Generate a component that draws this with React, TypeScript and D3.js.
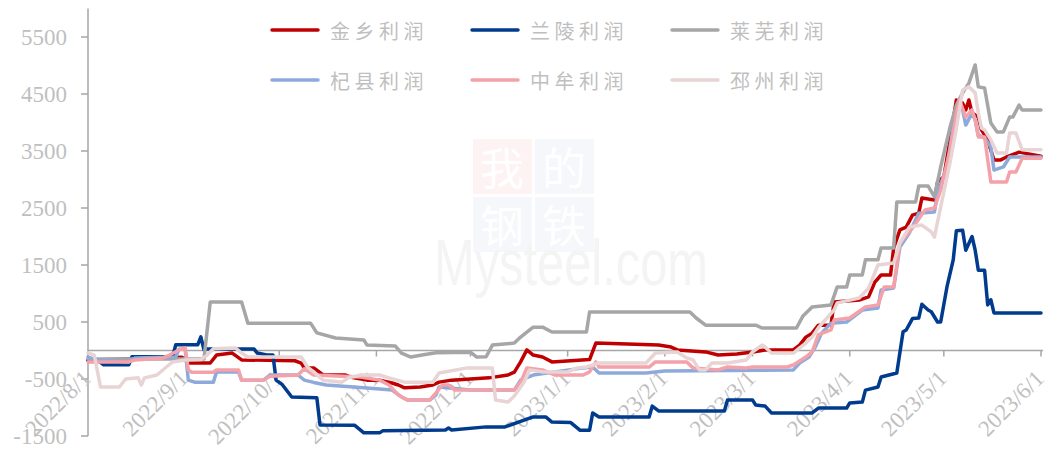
import React from 'react'
import * as d3 from 'd3'

// 利润走势，单位：元/吨（点位按日期读取）
type Pt = [string, number]

const seriesNames = ['金乡利润', '兰陵利润', '莱芜利润', '杞县利润', '中牟利润', '邳州利润']
const seriesColors = ['#c00000', '#003b8e', '#a6a6a6', '#8eaadb', '#f4a1a9', '#e8d4d4']

const jinxiang: Pt[] = [
  ['2022-08-01', -170], ['2022-08-31', -120], ['2022-09-02', -220], ['2022-09-09', -220], ['2022-09-11', -80],
  ['2022-09-16', -45], ['2022-09-19', -165], ['2022-10-06', -180], ['2022-10-08', -220], ['2022-10-09', -305],
  ['2022-10-12', -305], ['2022-10-15', -430], ['2022-10-22', -430], ['2022-10-24', -470], ['2022-10-29', -520],
  ['2022-11-02', -520], ['2022-11-06', -570], ['2022-11-08', -605], ['2022-11-10', -655], ['2022-11-15', -640],
  ['2022-11-19', -605], ['2022-11-21', -555], ['2022-11-25', -520], ['2022-12-07', -480], ['2022-12-13', -430],
  ['2022-12-15', -380], ['2022-12-17', -200], ['2022-12-19', 10], ['2022-12-21', -80], ['2022-12-24', -115],
  ['2022-12-27', -200], ['2023-01-08', -160], ['2023-01-10', 130], ['2023-01-30', 95], ['2023-02-03', 60],
  ['2023-02-05', 10], ['2023-02-14', -25], ['2023-02-18', -80], ['2023-02-24', -60], ['2023-03-01', -25],
  ['2023-03-05', 10], ['2023-03-14', 10], ['2023-03-16', 95], ['2023-03-18', 235], ['2023-03-20', 305],
  ['2023-03-22', 445], ['2023-03-26', 445], ['2023-03-27', 850], ['2023-04-04', 885], ['2023-04-07', 940],
  ['2023-04-09', 1200], ['2023-04-11', 1325], ['2023-04-14', 1325], ['2023-04-15', 1800], ['2023-04-17', 2115],
  ['2023-04-19', 2165], ['2023-04-21', 2375], ['2023-04-23', 2410], ['2023-04-24', 2675], ['2023-04-28', 2640],
  ['2023-04-29', 2955], ['2023-05-01', 3045], ['2023-05-03', 3700], ['2023-05-05', 4395], ['2023-05-07', 4340],
  ['2023-05-08', 4220], ['2023-05-09', 4395], ['2023-05-10', 4165], ['2023-05-12', 4095], ['2023-05-13', 3870],
  ['2023-05-15', 3695], ['2023-05-17', 3340], ['2023-05-19', 3340], ['2023-05-21', 3395], ['2023-05-25', 3480],
  ['2023-06-01', 3410],
]

const lanling: Pt[] = [
  ['2022-08-01', -170], ['2022-08-04', -170], ['2022-08-06', -250], ['2022-08-14', -250], ['2022-08-15', -110],
  ['2022-08-28', -110], ['2022-08-29', 100], ['2022-09-05', 100], ['2022-09-06', 240], ['2022-09-07', 10],
  ['2022-09-08', 25], ['2022-09-23', 25], ['2022-09-24', -45], ['2022-09-27', -80], ['2022-09-29', -80],
  ['2022-09-30', -520], ['2022-10-02', -600], ['2022-10-05', -815], ['2022-10-13', -830], ['2022-10-14', -1305],
  ['2022-10-25', -1310], ['2022-10-28', -1445], ['2022-11-02', -1445], ['2022-11-03', -1410], ['2022-11-23', -1395],
  ['2022-11-24', -1360], ['2022-11-25', -1395], ['2022-12-06', -1340], ['2022-12-12', -1340], ['2022-12-21', -1165],
  ['2022-12-25', -1165], ['2022-12-27', -1255], ['2023-01-02', -1265], ['2023-01-05', -1400], ['2023-01-08', -1400],
  ['2023-01-09', -1095], ['2023-01-11', -1165], ['2023-01-27', -1165], ['2023-01-28', -975], ['2023-01-30', -1060],
  ['2023-02-20', -1060], ['2023-02-21', -870], ['2023-03-01', -870], ['2023-03-02', -955], ['2023-03-05', -975],
  ['2023-03-07', -1095], ['2023-03-20', -1095], ['2023-03-22', -1010], ['2023-03-31', -1010], ['2023-04-01', -920],
  ['2023-04-05', -905], ['2023-04-06', -695], ['2023-04-10', -640], ['2023-04-11', -465], ['2023-04-16', -395],
  ['2023-04-18', 330], ['2023-04-19', 360], ['2023-04-21', 560], ['2023-04-23', 570], ['2023-04-24', 810],
  ['2023-04-26', 710], ['2023-04-27', 680], ['2023-04-29', 500], ['2023-04-30', 500], ['2023-05-02', 1115],
  ['2023-05-04', 1590], ['2023-05-05', 2100], ['2023-05-07', 2110], ['2023-05-08', 1760], ['2023-05-10', 2000],
  ['2023-05-11', 1760], ['2023-05-12', 1410], ['2023-05-14', 1410], ['2023-05-15', 800], ['2023-05-16', 890],
  ['2023-05-17', 660], ['2023-06-01', 660],
]

const laiwu: Pt[] = [
  ['2022-08-01', -150], ['2022-09-07', -150], ['2022-09-09', 850], ['2022-09-19', 850], ['2022-09-21', 480],
  ['2022-10-11', 480], ['2022-10-13', 310], ['2022-10-19', 220], ['2022-10-28', 185], ['2022-10-29', 95],
  ['2022-11-07', 80], ['2022-11-09', -45], ['2022-11-12', -115], ['2022-11-16', -75], ['2022-11-20', -40],
  ['2022-12-01', -30], ['2022-12-03', -115], ['2022-12-06', -110], ['2022-12-08', 95], ['2022-12-15', 130],
  ['2022-12-17', 235], ['2022-12-21', 410], ['2022-12-24', 410], ['2022-12-27', 325], ['2023-01-07', 325],
  ['2023-01-08', 675], ['2023-02-09', 675], ['2023-02-11', 570], ['2023-02-14', 445], ['2023-03-02', 445],
  ['2023-03-04', 395], ['2023-03-15', 395], ['2023-03-17', 600], ['2023-03-20', 765], ['2023-03-26', 800],
  ['2023-03-28', 1115], ['2023-03-31', 1115], ['2023-04-01', 1325], ['2023-04-05', 1325], ['2023-04-06', 1590],
  ['2023-04-10', 1590], ['2023-04-11', 1800], ['2023-04-15', 1800], ['2023-04-16', 2605], ['2023-04-22', 2605],
  ['2023-04-23', 2885], ['2023-04-26', 2885], ['2023-04-28', 2695], ['2023-04-30', 3220], ['2023-05-03', 3920],
  ['2023-05-05', 4305], ['2023-05-07', 4520], ['2023-05-09', 4690], ['2023-05-11', 5010], ['2023-05-12', 4625],
  ['2023-05-14', 4605], ['2023-05-16', 3990], ['2023-05-18', 3835], ['2023-05-20', 3835], ['2023-05-22', 4095],
  ['2023-05-23', 4095], ['2023-05-25', 4305], ['2023-05-26', 4220], ['2023-06-01', 4220],
]

const qixian: Pt[] = [
  ['2022-08-01', -115], ['2022-08-04', -165], ['2022-08-14', -200], ['2022-08-16', -130], ['2022-08-29', -115],
  ['2022-08-30', 20], ['2022-09-01', 20], ['2022-09-02', -520], ['2022-09-04', -555], ['2022-09-10', -555],
  ['2022-09-11', -375], ['2022-09-18', -375], ['2022-09-19', -520], ['2022-09-26', -520], ['2022-09-28', -430],
  ['2022-10-07', -430], ['2022-10-09', -520], ['2022-10-12', -560], ['2022-10-16', -605], ['2022-10-28', -655],
  ['2022-11-06', -695], ['2022-11-09', -815], ['2022-11-11', -870], ['2022-11-18', -870], ['2022-11-20', -780],
  ['2022-11-21', -640], ['2022-12-01', -695], ['2022-12-15', -695], ['2022-12-17', -520], ['2022-12-21', -430],
  ['2023-01-06', -305], ['2023-01-09', -290], ['2023-01-11', -395], ['2023-01-26', -395], ['2023-02-01', -360],
  ['2023-03-14', -340], ['2023-03-16', -220], ['2023-03-19', -115], ['2023-03-21', 60], ['2023-03-23', 305],
  ['2023-03-26', 480], ['2023-03-31', 500], ['2023-04-05', 710], ['2023-04-10', 745], ['2023-04-11', 1060],
  ['2023-04-15', 1095], ['2023-04-17', 1815], ['2023-04-20', 2060], ['2023-04-23', 2410], ['2023-04-28', 2430],
  ['2023-04-29', 2765], ['2023-05-02', 3220], ['2023-05-03', 3570], ['2023-05-04', 3920], ['2023-05-06', 4270],
  ['2023-05-07', 4220], ['2023-05-08', 3955], ['2023-05-10', 4165], ['2023-05-11', 4045], ['2023-05-12', 3780],
  ['2023-05-14', 3730], ['2023-05-16', 3570], ['2023-05-17', 3165], ['2023-05-20', 3220], ['2023-05-22', 3395],
  ['2023-06-01', 3395],
]

const zhongmu: Pt[] = [
  ['2022-08-01', -200], ['2022-08-14', -200], ['2022-08-16', -165], ['2022-08-25', -130], ['2022-08-27', -80],
  ['2022-08-30', 10], ['2022-09-01', 45], ['2022-09-02', -340], ['2022-09-03', -380], ['2022-09-10', -380],
  ['2022-09-11', -340], ['2022-09-18', -340], ['2022-09-19', -520], ['2022-09-26', -520], ['2022-09-28', -450],
  ['2022-10-07', -430], ['2022-10-09', -320], ['2022-10-12', -430], ['2022-10-27', -465], ['2022-11-02', -520],
  ['2022-11-05', -605], ['2022-11-08', -780], ['2022-11-11', -870], ['2022-11-18', -870], ['2022-11-20', -745],
  ['2022-11-22', -605], ['2022-11-24', -605], ['2022-11-26', -695], ['2022-12-15', -695], ['2022-12-17', -555],
  ['2022-12-19', -305], ['2022-12-24', -340], ['2022-12-28', -430], ['2023-01-06', -430], ['2023-01-08', -375],
  ['2023-01-10', -200], ['2023-01-11', -290], ['2023-01-27', -290], ['2023-01-29', -200], ['2023-02-08', -200],
  ['2023-02-10', -305], ['2023-02-18', -340], ['2023-02-21', -290], ['2023-02-27', -305], ['2023-03-01', -290],
  ['2023-03-12', -290], ['2023-03-14', -255], ['2023-03-18', -115], ['2023-03-20', -25], ['2023-03-22', 280],
  ['2023-03-26', 360], ['2023-03-27', 535], ['2023-04-01', 570], ['2023-04-06', 765], ['2023-04-10', 800],
  ['2023-04-12', 1115], ['2023-04-15', 1115], ['2023-04-17', 1885], ['2023-04-21', 2150], ['2023-04-25', 2465],
  ['2023-04-28', 2500], ['2023-04-30', 2815], ['2023-05-03', 3520], ['2023-05-05', 4150], ['2023-05-06', 4395],
  ['2023-05-08', 4095], ['2023-05-10', 4220], ['2023-05-11', 4045], ['2023-05-12', 3745], ['2023-05-14', 3745],
  ['2023-05-16', 2955], ['2023-05-21', 2955], ['2023-05-22', 3130], ['2023-05-24', 3130], ['2023-05-26', 3375],
  ['2023-06-01', 3375],
]

const pizhou: Pt[] = [
  ['2022-08-01', -40], ['2022-08-03', -80], ['2022-08-05', -640], ['2022-08-11', -640], ['2022-08-13', -500],
  ['2022-08-17', -480], ['2022-08-18', -605], ['2022-08-19', -480], ['2022-08-23', -430], ['2022-08-26', -290],
  ['2022-08-28', -200], ['2022-09-01', -165], ['2022-09-06', -160], ['2022-09-08', -80], ['2022-09-10', 30],
  ['2022-09-17', 45], ['2022-09-19', -45], ['2022-09-21', -115], ['2022-10-08', -115], ['2022-10-10', -290],
  ['2022-10-12', -375], ['2022-10-15', -520], ['2022-10-21', -555], ['2022-10-23', -480], ['2022-10-27', -430],
  ['2022-11-02', -430], ['2022-11-05', -480], ['2022-11-10', -555], ['2022-11-19', -555], ['2022-11-21', -395],
  ['2022-11-30', -305], ['2022-12-08', -305], ['2022-12-09', -870], ['2022-12-13', -905], ['2022-12-15', -800],
  ['2022-12-18', -560], ['2022-12-20', -340], ['2022-12-24', -375], ['2023-01-01', -375], ['2023-01-04', -305],
  ['2023-01-07', -290], ['2023-01-11', -220], ['2023-01-26', -220], ['2023-01-29', -45], ['2023-02-05', -25],
  ['2023-02-08', -130], ['2023-02-10', -165], ['2023-02-12', -340], ['2023-02-14', -340], ['2023-02-16', -220],
  ['2023-02-21', -220], ['2023-02-27', -165], ['2023-03-01', -25], ['2023-03-04', 95], ['2023-03-05', 60],
  ['2023-03-07', -45], ['2023-03-14', -45], ['2023-03-16', 45], ['2023-03-18', 130], ['2023-03-20', 235],
  ['2023-03-22', 400], ['2023-03-27', 710], ['2023-03-28', 835], ['2023-04-04', 920], ['2023-04-07', 1095],
  ['2023-04-10', 1500], ['2023-04-15', 1535], ['2023-04-17', 1885], ['2023-04-20', 2165], ['2023-04-24', 2200],
  ['2023-04-27', 2080], ['2023-04-28', 1990], ['2023-04-30', 2520], ['2023-05-03', 3300], ['2023-05-05', 3900],
  ['2023-05-07', 4570], ['2023-05-09', 4625], ['2023-05-11', 4520], ['2023-05-12', 4165], ['2023-05-13', 3905],
  ['2023-05-14', 3870], ['2023-05-16', 3695], ['2023-05-18', 3465], ['2023-05-21', 3465], ['2023-05-22', 3815],
  ['2023-05-24', 3815], ['2023-05-26', 3520], ['2023-06-01', 3520],
]

const allSeries = [jinxiang, lanling, laiwu, qixian, zhongmu, pizhou]

const xTickLabels = [
  '2022/8/1', '2022/9/1', '2022/10/1', '2022/11/1', '2022/12/1', '2023/1/1',
  '2023/2/1', '2023/3/1', '2023/4/1', '2023/5/1', '2023/6/1',
]
const yTicks = [-1500, -500, 500, 1500, 2500, 3500, 4500, 5500]

const W = 1048
const H = 453
const parse = d3.timeParse('%Y-%m-%d')
const parseTick = d3.timeParse('%Y/%m/%d')

const App = () => {
  const x = d3.scaleTime()
    .domain([parse('2022-08-01') as Date, parse('2023-06-01') as Date])
    .range([88, 1041])
  const y = d3.scaleLinear().domain([-1500, 6000]).range([436, 8.5])

  const line = d3.line<Pt>()
    .x(d => x(parse(d[0]) as Date))
    .y(d => y(d[1]))

  const axisColor = '#a6a6a6'
  const labelColor = '#bfbfbf'
  const y0 = y(0)

  return (
    <svg width={W} height={H} style={{ position: 'absolute', left: 0, top: 0, background: '#fff' }}
      fontFamily="'Liberation Serif', 'Times New Roman', serif">
      {/* watermark */}
      <g>
        <rect x={473} y={139} width={59} height={55} fill="#fdf3f3" />
        <rect x={535} y={139} width={59} height={55} fill="#f6f7fa" />
        <rect x={473} y={197} width={59} height={55} fill="#f6f7fa" />
        <rect x={535} y={197} width={59} height={55} fill="#f6f7fa" />
        {['我', '的', '钢', '铁'].map((c, i) => (
          <text key={c} x={502 + (i % 2) * 62} y={166 + Math.floor(i / 2) * 58} textAnchor="middle"
            dominantBaseline="central" fontSize={44} fill="#ffffff"
            fontFamily="'Noto Sans CJK SC', sans-serif">{c}</text>
        ))}
        <text x={434} y={285} fontSize={64} fill="#f4f4f4" textLength={274} lengthAdjust="spacingAndGlyphs"
          fontFamily="'Liberation Sans', Arial, sans-serif">Mysteel.com</text>
      </g>

      {/* y axis */}
      <line x1={88} x2={88} y1={y(6000)} y2={y(-1500)} stroke={axisColor} strokeWidth={1.5} />
      {yTicks.map(t => (
        <g key={t}>
          <line x1={81} x2={88} y1={y(t)} y2={y(t)} stroke={axisColor} strokeWidth={1.5} />
          <text x={67} y={y(t)} textAnchor="end" dominantBaseline="central" fontSize={23} fill={labelColor}>{t}</text>
        </g>
      ))}

      {/* x axis at zero */}
      <line x1={88} x2={1043} y1={y0} y2={y0} stroke={axisColor} strokeWidth={1.5} />
      {xTickLabels.map(lbl => {
        const tx = x(parseTick(lbl) as Date)
        return (
          <g key={lbl}>
            <line x1={tx} x2={tx} y1={y0} y2={y0 + 6} stroke={axisColor} strokeWidth={1.5} />
            <text transform={`translate(${tx - 1},${y0 + 24}) rotate(-45)`} textAnchor="end"
              dominantBaseline="central" fontSize={23} fill={labelColor}>{lbl}</text>
          </g>
        )
      })}

      {/* series */}
      {allSeries.map((s, i) => (
        <path key={seriesNames[i]} d={line(s) || ''} fill="none" stroke={seriesColors[i]} strokeWidth={3.5}
          strokeLinejoin="round" strokeLinecap="round" />
      ))}

      {/* legend */}
      {seriesNames.map((n, i) => {
        const lx = 272 + (i % 3) * 200
        const ly = 30 + Math.floor(i / 3) * 50
        return (
          <g key={n}>
            <line x1={lx} x2={lx + 46} y1={ly} y2={ly} stroke={seriesColors[i]} strokeWidth={3.5} strokeLinecap="round" />
            <text x={lx + 58} y={ly} dominantBaseline="central" fontSize={20} letterSpacing={4.5} fill={labelColor}
              fontFamily="'Noto Sans CJK SC', sans-serif">{n}</text>
          </g>
        )
      })}
    </svg>
  )
}

export default App
